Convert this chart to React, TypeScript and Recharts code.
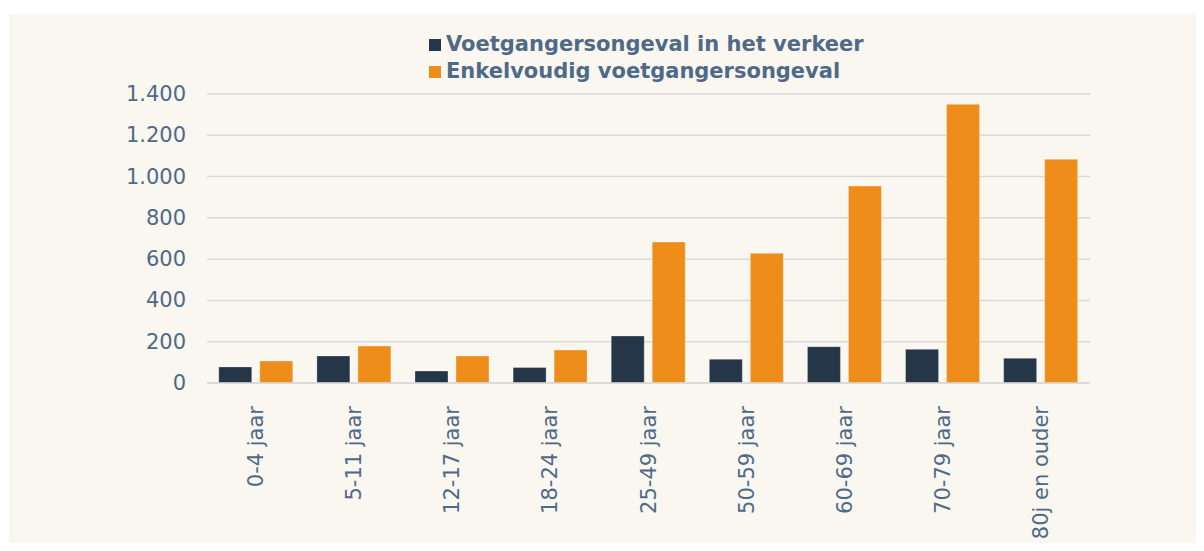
import React from "react";
import { BarChart, Bar, XAxis, YAxis, CartesianGrid } from "recharts";

const categories = ["0-4 jaar", "5-11 jaar", "12-17 jaar", "18-24 jaar", "25-49 jaar", "50-59 jaar", "60-69 jaar", "70-79 jaar", "80j en ouder"];
const verkeer = [78, 131, 58, 75, 228, 115, 176, 163, 120];
const enkelvoudig = [107, 179, 131, 160, 683, 628, 954, 1350, 1084];
const yTicks = [0, 200, 400, 600, 800, 1000, 1200, 1400];
const seriesNames = ["Voetgangersongeval in het verkeer", "Enkelvoudig voetgangersongeval"];
const colors = ["#253649", "#ef8d1a"];

const data = categories.map((c, i) => ({ cat: c, a: verkeer[i], b: enkelvoudig[i] }));

const FONT = "'DejaVu Sans', Verdana, sans-serif";
const TEXT = "#4f6a87";

const fmt = (v: number) => v.toLocaleString("nl-NL");

const XTick = (props: any) => {
  const { x, y, payload } = props;
  const ty = y + 15;
  return (
    <text x={x} y={ty} transform={`rotate(-90, ${x}, ${ty})`} textAnchor="end" dominantBaseline="central" fontSize={21} fill={TEXT} fontFamily={FONT}>
      {payload.value}
    </text>
  );
};

const YTick = (props: any) => {
  const { y, payload } = props;
  return (
    <text x={186} y={y} textAnchor="end" dominantBaseline="central" fontSize={21} fill={TEXT} fontFamily={FONT}>
      {fmt(payload.value)}
    </text>
  );
};

const LegendBox = () => (
  <div style={{ position: "absolute", left: 429, top: 31, fontFamily: FONT, fontWeight: "bold", fontSize: 21, color: TEXT, lineHeight: "27px" }}>
    {seriesNames.map((n, i) => (
      <div key={n} style={{ display: "flex", alignItems: "center", whiteSpace: "nowrap" }}>
        <span style={{ display: "inline-block", width: 12, height: 12, background: colors[i], marginRight: 5 }} />
        <span>{n}</span>
      </div>
    ))}
  </div>
);

export default function App() {
  return (
    <div style={{ position: "relative", margin: -8, width: 1204, height: 551, background: "#ffffff", overflow: "hidden" }}>
      <div style={{ position: "absolute", left: 9, top: 14, width: 1195, height: 537, background: "#faf7f1" }} />
      <div style={{ position: "absolute", left: 0, top: 0 }}>
        <BarChart width={1204} height={551} data={data} margin={{ top: 94, right: 114, bottom: 0, left: 0 }} barCategoryGap="12%" barGap={8}>
          <CartesianGrid vertical={false} stroke="#d9d9d9" strokeWidth={1.5} />
          <XAxis dataKey="cat" height={168} interval={0} tick={<XTick />} tickLine={false} axisLine={{ stroke: "#d9d9d9", strokeWidth: 1.5 }} />
          <YAxis width={207} domain={[0, 1400]} ticks={yTicks} tick={<YTick />} tickLine={false} axisLine={false} />
          <Bar dataKey="a" name={seriesNames[0]} fill={colors[0]} stroke="#ffffff" strokeOpacity={0.3} isAnimationActive={false} />
          <Bar dataKey="b" name={seriesNames[1]} fill={colors[1]} stroke="#ffffff" strokeOpacity={0.3} isAnimationActive={false} />
        </BarChart>
      </div>
      <LegendBox />
    </div>
  );
}
